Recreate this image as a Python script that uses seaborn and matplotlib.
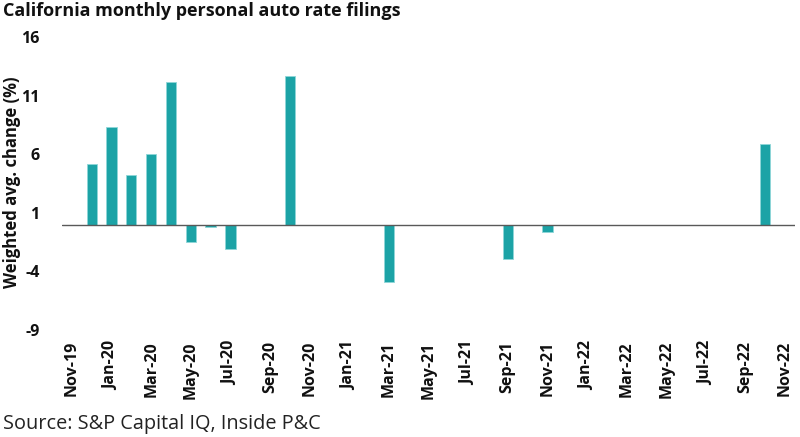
import pandas as pd
import matplotlib
matplotlib.use('Agg')
import matplotlib.pyplot as plt
import seaborn as sns

# all months on the date axis, Nov-19 .. Nov-22
MONTHS = [d.strftime('%b-%y') for d in pd.date_range('2019-11-01', '2022-11-01', freq='MS')]

# months with a weighted avg. rate change filed
filing_months = ['Dec-19', 'Jan-20', 'Feb-20', 'Mar-20', 'Apr-20', 'May-20', 'Jun-20',
                 'Jul-20', 'Oct-20', 'Mar-21', 'Sep-21', 'Nov-21', 'Oct-22']
changes = [5.2, 8.3, 4.2, 6.0, 12.2, -1.5, -0.2, -2.1, 12.7, -4.9, -2.9, -0.6, 6.9]

y_ticks = [-9, -4, 1, 6, 11, 16]

TEAL = '#1ca3a6'

sns.set_theme(style='white')
plt.rcParams['font.family'] = ['Open Sans', 'DejaVu Sans']

df = pd.DataFrame({'month': filing_months, 'change': changes})

fig, ax = plt.subplots(figsize=(8, 4.37), dpi=100)
fig.subplots_adjust(left=62 / 800, right=795 / 800, top=1 - 37 / 437, bottom=1 - 330 / 437)

sns.barplot(data=df, x='month', y='change', order=MONTHS, color=TEAL, saturation=1,
            width=0.52, edgecolor='#8fd6d8', linewidth=0.6, ax=ax)

ax.axhline(0, color='#595959', lw=1, zorder=3)
ax.set_ylim(-9, 16)
ax.set_xlim(-0.5, len(MONTHS) - 0.5)
ax.set_yticks(y_ticks)
ax.set_yticklabels([str(t) for t in y_ticks], fontweight='bold', fontsize=11.5, color='#111111')
ax.set_xticks(range(0, len(MONTHS), 2))
ax.set_xticklabels(MONTHS[::2], rotation=90, fontweight='bold', fontsize=11.5, color='#111111')
ax.tick_params(axis='both', length=0)
ax.tick_params(axis='x', pad=8)
ax.tick_params(axis='y', pad=16)
for s in ax.spines.values():
    s.set_visible(False)

ax.set_xlabel('')
ax.set_ylabel('Weighted avg. change (%)', fontweight='bold', fontsize=12, color='#111111')
ax.yaxis.set_label_coords(-0.056, 0.505)

fig.text(0.004, 0.995, 'California monthly personal auto rate filings', ha='left', va='top',
         fontweight='bold', fontsize=13, color='#111111')
fig.text(0.004, 0.008, 'Source: S&P Capital IQ, Inside P&C', ha='left', va='bottom',
         fontsize=14.3, color='#222222')

fig.savefig('out.png', dpi=100)
